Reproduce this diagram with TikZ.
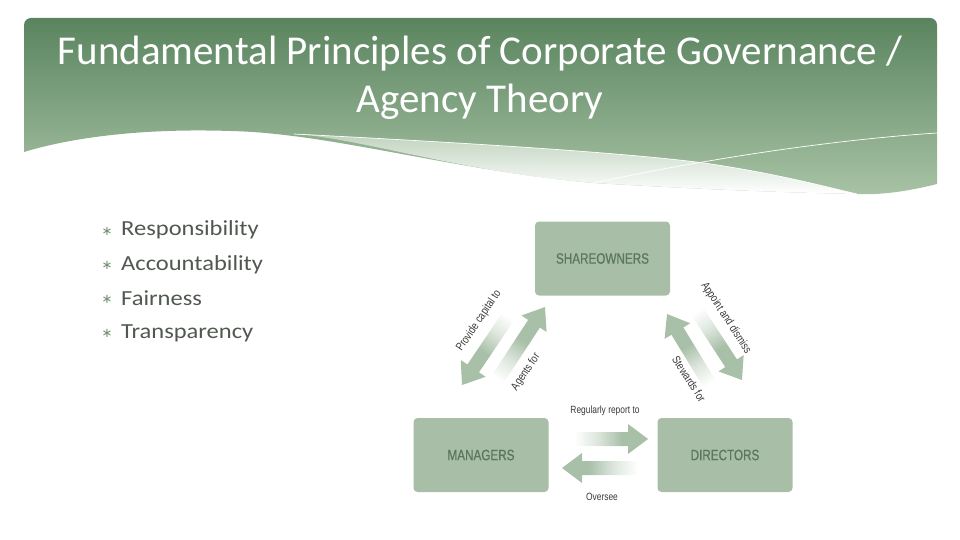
\documentclass[tikz,border=0pt]{standalone}
\usepackage{fontspec}
\setmainfont{Carlito}
\newfontfamily\bodyfont[FakeStretch=1.14]{Carlito}
\newfontfamily\condfont[FakeStretch=0.8]{Liberation Sans}
\newfontfamily\boxfont[FakeStretch=0.78,FakeBold=0.6]{Liberation Sans}
\newfontfamily\symfont{DejaVu Sans}
\usetikzlibrary{calc}
\definecolor{bannerTop}{RGB}{86,129,91}
\definecolor{bannerBot}{RGB}{168,195,165}
\definecolor{bandTop}{RGB}{192,211,190}
\definecolor{boxgreen}{RGB}{168,190,167}
\definecolor{boxtext}{RGB}{92,118,94}
\definecolor{arrowgreen}{RGB}{168,191,168}
\definecolor{bodytext}{RGB}{80,88,80}
\definecolor{bulletc}{RGB}{115,145,115}
\definecolor{lbltext}{RGB}{55,58,55}
\pgfdeclareverticalshading{arrowfade}{100bp}{color(0bp)=(white); color(32bp)=(white); color(46bp)=(arrowgreen!40!white); color(60bp)=(arrowgreen); color(100bp)=(arrowgreen)}
\newcommand\blockarrow[2]{%
  \pgfmathanglebetweenpoints{\pgfpointanchor{#1}{center}}{\pgfpointanchor{#2}{center}}%
  \pgfmathsetmacro\shang{\pgfmathresult-90}%
  \coordinate (#1n) at ($(#2)!20pt!(#1)$);
  \shade[shading=arrowfade, shading angle=\shang]
    ($(#1)!7pt!90:(#2)$) -- ($(#1n)!7pt!90:(#2)$) -- ($(#1n)!15pt!90:(#2)$) -- (#2)
    -- ($(#1n)!15pt!-90:(#2)$) -- ($(#1n)!7pt!-90:(#2)$) -- ($(#1)!7pt!-90:(#2)$) -- cycle;
}
\begin{document}
\begin{tikzpicture}[x=1pt,y=-1pt,
  box/.style={fill=boxgreen, rounded corners=4, minimum width=135, minimum height=74, inner sep=0,
    text=boxtext, font=\boxfont\fontsize{15}{15}\selectfont},
  lbl/.style={text=lbltext, font=\condfont\fontsize{10.5}{10.5}\selectfont, inner sep=1},
  rlbl/.style={text=lbltext, font=\condfont\fontsize{11.5}{11.5}\selectfont, inner sep=1},
  bulletitem/.style={anchor=west, text=bodytext, font=\bodyfont\fontsize{21.5}{24}\selectfont, inner sep=0},
  bulletmark/.style={text=bulletc, font=\symfont\fontsize{13}{13}\selectfont, inner sep=0}]
\useasboundingbox (0,0) rectangle (960,540);
% banner
\begin{scope}
\clip[rounded corners=7] (24,18) rectangle (937,260);
\shade[top color=bannerTop, bottom color=bannerBot] (24,152) -- (24,10) -- (937,10) -- (937,184)
  .. controls (905,192) and (880,195) .. (857,194)
  .. controls (760,192) and (680,188) .. (594,183)
  .. controls (450,170) and (330,133) .. (230,131)
  .. controls (140,128) and (70,138) .. (24,152) -- cycle;
\shade[top color=bandTop, bottom color=white] (294,134)
  .. controls (450,142) and (620,152) .. (704,163)
  .. controls (780,174) and (830,188) .. (857,194)
  .. controls (760,192) and (680,188) .. (594,183)
  .. controls (460,172) and (360,138) .. (294,134) -- cycle;
\draw[white, line width=0.7] (294,134)
  .. controls (450,142) and (620,152) .. (704,163)
  .. controls (780,174) and (830,188) .. (857,194);
\draw[white, line width=0.7] (594,183) .. controls (700,160) and (830,140) .. (937,133);
\end{scope}
\node[text=white, font=\fontsize{41}{48}\selectfont, align=center, inner sep=0] (title) at (480,78)
  {Fundamental Principles of Corporate Governance /\\Agency Theory};
% bullets
\foreach \t [count=\i] in {Responsibility,Accountability,Fairness,Transparency}{
  \node[bulletmark] (star\i) at (107,{231+34.3*(\i-1)}) {∗};
  \node[bulletitem] (bul\i) at (121,{230+34.3*(\i-1)}) {\t};
}
% diagram boxes
\node[box] (share) at (602.5,258.5) {SHAREOWNERS};
\node[box] (mgr) at (481,455) {MANAGERS};
\node[box] (dir) at (725,455) {DIRECTORS};
% arrow end points
\coordinate (a1t) at (520,299); \coordinate (a1h) at (462,385);
\coordinate (a2t) at (486,397); \coordinate (a2h) at (545,307);
\coordinate (a3t) at (686,294); \coordinate (a3h) at (742,380);
\coordinate (a4t) at (720,401); \coordinate (a4h) at (667,314);
\coordinate (a5t) at (562,439); \coordinate (a5h) at (648,439);
\coordinate (a6t) at (650,468); \coordinate (a6h) at (562,468);
\blockarrow{a1t}{a1h}
\blockarrow{a2t}{a2h}
\blockarrow{a3t}{a3h}
\blockarrow{a4t}{a4h}
\blockarrow{a5t}{a5h}
\blockarrow{a6t}{a6h}
% labels
\node[rlbl, rotate=56] (l1) at (479,321) {Provide capital to};
\node[rlbl, rotate=56] (l2) at (526,372) {Agents for};
\node[rlbl, rotate=-57] (l3) at (726,318) {Appoint and dismiss};
\node[rlbl, rotate=-57] (l4) at (689,379) {Stewards for};
\node[lbl] (l5) at (605,411) {Regularly report to};
\node[lbl] (l6) at (602,497) {Oversee};
\end{tikzpicture}
\end{document}
